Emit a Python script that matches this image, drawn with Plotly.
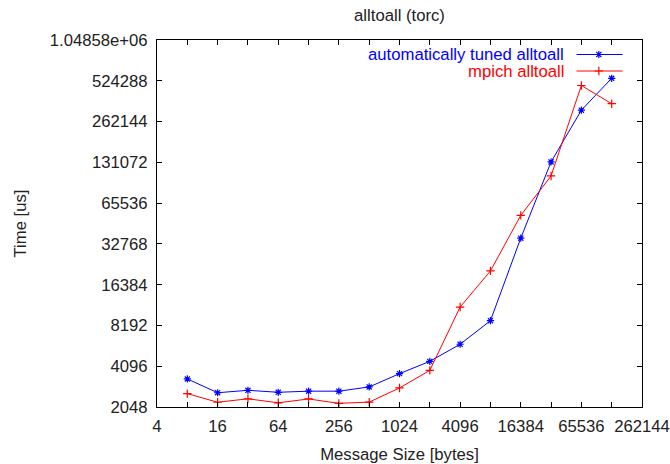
import plotly.graph_objects as go

sizes = [8, 16, 32, 64, 128, 256, 512, 1024, 2048, 4096, 8192, 16384, 32768, 65536, 131072]
tuned = [3300, 2610, 2720, 2630, 2680, 2680, 2880, 3610, 4450, 5950, 8880, 36100, 132000, 318000, 547000]
mpich = [2570, 2220, 2354, 2200, 2348, 2180, 2225, 2830, 3815, 11200, 20700, 53200, 104000, 484000, 355000]

series_names = ["automatically tuned alltoall", "mpich alltoall"]
x_tickvals = [2 ** k for k in range(2, 19)]
x_ticktext = [str(v) if k % 2 == 0 else "" for k, v in zip(range(2, 19), x_tickvals)]
y_tickvals = [2 ** k for k in range(11, 21)]
y_ticktext = [str(v) for v in y_tickvals[:-1]] + ["1.04858e+06"]

FONT = "Liberation Sans, Arial, sans-serif"
FS = 16.7
BLUE = "#0000ff"
RED = "#ff0000"
TXT = "#222"

W, H = 670, 464
L, R, T, B = 157, 670 - 642, 40, 464 - 407

fig = go.Figure()
fig.add_trace(go.Scatter(x=sizes, y=tuned, mode="lines+markers", name=series_names[0],
                         line=dict(color=BLUE, width=1),
                         marker=dict(symbol="asterisk-open", size=6, color=BLUE,
                                     line=dict(color=BLUE, width=1.2)),
                         showlegend=False))
fig.add_trace(go.Scatter(x=sizes, y=mpich, mode="lines+markers", name=series_names[1],
                         line=dict(color=RED, width=1),
                         marker=dict(symbol="cross-thin-open", size=6, color=RED,
                                     line=dict(color=RED, width=1.2)),
                         showlegend=False))

# manual legend (text on left, sample on right, gnuplot style)
leg_rows = [(0.9605, BLUE, "asterisk-open"), (0.9155, RED, "cross-thin-open")]
for (yy, col, sym), name in zip(leg_rows, series_names):
    fig.add_trace(go.Scatter(x=[0.865, 0.911, 0.960], y=[yy, yy, yy], xaxis="x2", yaxis="y2",
                             mode="lines", line=dict(color=col, width=1), showlegend=False,
                             hoverinfo="skip"))
    fig.add_trace(go.Scatter(x=[0.911], y=[yy], xaxis="x2", yaxis="y2", mode="markers",
                             marker=dict(symbol=sym, size=6, color=col, line=dict(color=col, width=1.2)),
                             showlegend=False, hoverinfo="skip"))
    fig.add_annotation(x=0.843, y=yy, xref="paper", yref="paper", text=name, showarrow=False,
                       xanchor="right", yanchor="middle", font=dict(family=FONT, size=FS, color=col))

axis_common = dict(showline=True, linecolor="#000", linewidth=1, mirror="allticks",
                   ticks="inside", ticklen=5, tickcolor="#000", showgrid=False, zeroline=False,
                   automargin=False,
                   tickfont=dict(family=FONT, size=FS, color=TXT))

fig.update_layout(
    width=W, height=H,
    margin=dict(l=L, r=R, t=T, b=B, pad=0),
    paper_bgcolor="white", plot_bgcolor="white",
    title=dict(text="alltoall (torc)", x=(157 + 642) / 2 / W, xanchor="center",
               y=1 - 15 / H, yanchor="middle", font=dict(family=FONT, size=FS, color=TXT)),
    xaxis=dict(type="log", range=[0.60206, 5.41854], tickvals=x_tickvals, ticktext=x_ticktext,
               title=dict(text="Message Size [bytes]", font=dict(family=FONT, size=FS, color=TXT),
                          standoff=14),
               ticklabelstandoff=4,
               **axis_common),
    yaxis=dict(type="log", range=[3.31133, 6.02060], tickvals=y_tickvals, ticktext=y_ticktext,
               title=dict(text="Time [us]", font=dict(family=FONT, size=FS, color=TXT),
                          standoff=18),
               ticklabelstandoff=5,
               **axis_common),
    xaxis2=dict(overlaying="x", range=[0, 1], visible=False, fixedrange=True),
    yaxis2=dict(overlaying="y", range=[0, 1], visible=False, fixedrange=True),
)

fig.write_html("out.html", config={"displayModeBar": False},
               post_script="document.body.style.margin='0';document.body.style.overflow='hidden';")
